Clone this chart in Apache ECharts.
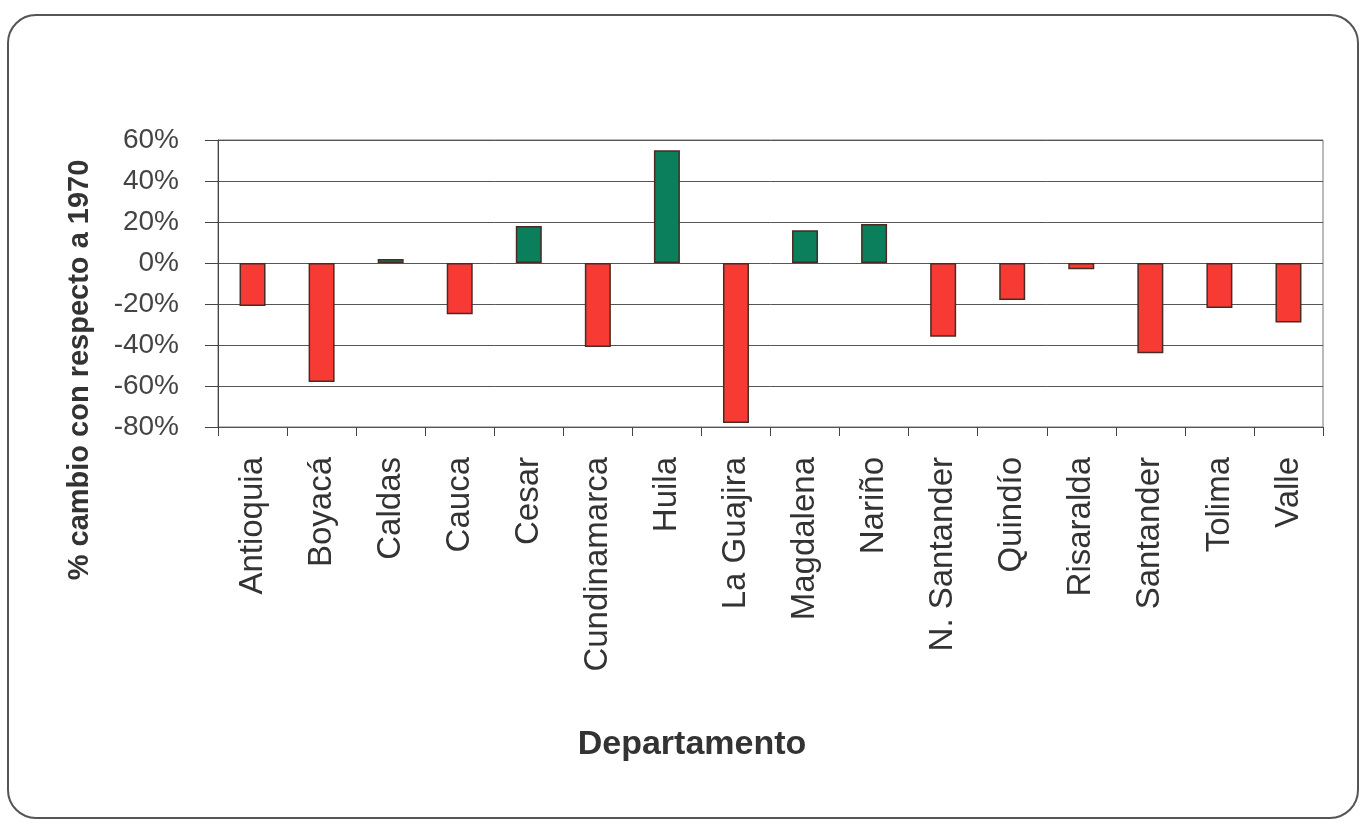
<!DOCTYPE html>
<html><head><meta charset="utf-8">
<script src="https://cdn.jsdelivr.net/npm/echarts@6/dist/echarts.min.js"></script>
<style>html,body{margin:0;padding:0;background:#fff}#c{width:1364px;height:823px}</style>
</head><body><div id="c"></div>
<script>
const categories = ['Antioquia','Boyacá','Caldas','Cauca','Cesar','Cundinamarca','Huila','La Guajira','Magdalena','Nariño','N. Santander','Quindío','Risaralda','Santander','Tolima','Valle'];
const values = [-21, -58, 2, -25, 18, -41, 55, -78, 16, 19, -36, -18, -3, -44, -22, -29];
const yTicks = {min: -80, max: 60, interval: 20};

const chart = echarts.init(document.getElementById('c'));
chart.setOption({
  backgroundColor: '#fff',
  animation: false,
  graphic: [
    {type: 'rect', shape: {x: 8, y: 15, width: 1350, height: 803, r: 28},
     style: {fill: 'none', stroke: '#555', lineWidth: 2}, z: -1},
    {type: 'text', x: 80, y: 370, rotation: Math.PI/2,
     style: {text: '% cambio con respecto a 1970', font: 'bold 29px Arial, "Liberation Sans", sans-serif',
       fill: '#333', align: 'center', verticalAlign: 'middle'}},
    {type: 'text', x: 692, y: 745,
     style: {text: 'Departamento', font: 'bold 34px Arial, "Liberation Sans", sans-serif',
       fill: '#333', align: 'center', verticalAlign: 'middle'}}
  ],
  grid: {left: 218, right: 41, top: 140, bottom: 396, show: true, borderColor: '#777', borderWidth: 1},
  xAxis: {
    type: 'category', data: categories,
    axisLine: {show: false, onZero: false},
    axisTick: {show: true, length: 9, lineStyle: {color: '#444'}},
    axisLabel: {rotate: 90, margin: 30, fontSize: 33, color: '#333', fontFamily: 'Arial, "Liberation Sans", sans-serif'},
    position: 'bottom'
  },
  yAxis: {
    type: 'value', min: yTicks.min, max: yTicks.max, interval: yTicks.interval,
    axisLine: {show: true, lineStyle: {color: '#444'}},
    axisTick: {show: true, length: 13, lineStyle: {color: '#444'}},
    axisLabel: {formatter: '{value}%', fontSize: 28, color: '#444', margin: 39,
      fontFamily: 'Arial, "Liberation Sans", sans-serif'},
    splitLine: {lineStyle: {color: '#555', width: 1}}
  },
  series: [{
    type: 'bar', barWidth: 26,
    data: values.map(v => ({value: v, itemStyle: {color: v >= 0 ? '#0b7f5b' : '#f83a35'}})),
    itemStyle: {borderColor: '#4a2a22', borderWidth: 1.5}
  }]
});
</script></body></html>
